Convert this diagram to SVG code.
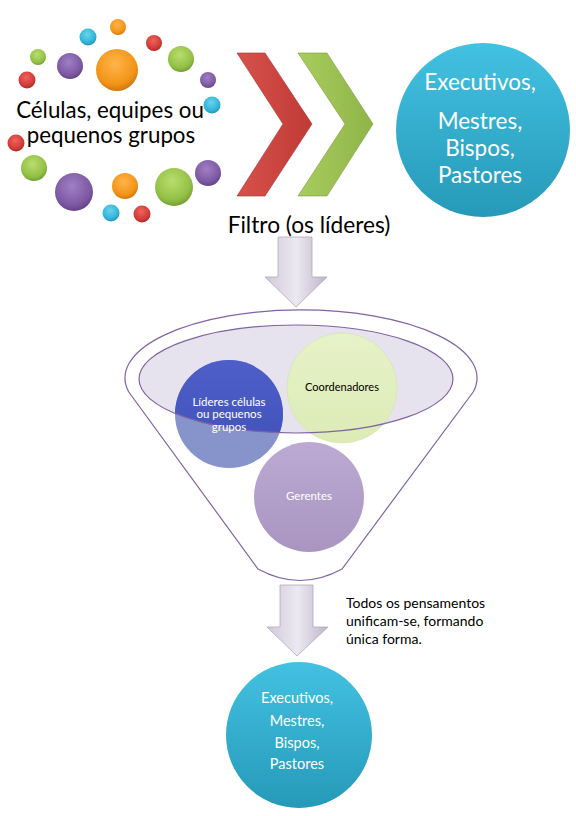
<svg xmlns="http://www.w3.org/2000/svg" width="576" height="816" viewBox="0 0 576 816">
<defs>
<radialGradient id="gO" cx="0.45" cy="0.35" r="0.7"><stop offset="0" stop-color="#ffb54a"/><stop offset="0.7" stop-color="#f29418"/><stop offset="1" stop-color="#c7700c"/></radialGradient>
<radialGradient id="gP" cx="0.45" cy="0.35" r="0.7"><stop offset="0" stop-color="#a07fc4"/><stop offset="0.7" stop-color="#7d58a3"/><stop offset="1" stop-color="#5c3d7e"/></radialGradient>
<radialGradient id="gG" cx="0.45" cy="0.35" r="0.7"><stop offset="0" stop-color="#b9de6e"/><stop offset="0.7" stop-color="#92c045"/><stop offset="1" stop-color="#6b952b"/></radialGradient>
<radialGradient id="gR" cx="0.45" cy="0.35" r="0.7"><stop offset="0" stop-color="#f0625c"/><stop offset="0.7" stop-color="#d03a35"/><stop offset="1" stop-color="#9c2420"/></radialGradient>
<radialGradient id="gC" cx="0.45" cy="0.35" r="0.7"><stop offset="0" stop-color="#6ad3ef"/><stop offset="0.7" stop-color="#2fb3d7"/><stop offset="1" stop-color="#1b86a6"/></radialGradient>
<linearGradient id="gTeal" x1="0" y1="0" x2="0" y2="1"><stop offset="0" stop-color="#43c1e2"/><stop offset="1" stop-color="#2699b8"/></linearGradient>
<linearGradient id="gRed" x1="0" y1="0" x2="1" y2="0"><stop offset="0" stop-color="#d8524c"/><stop offset="1" stop-color="#bf3a35"/></linearGradient>
<linearGradient id="gGrn" x1="0" y1="0" x2="1" y2="0"><stop offset="0" stop-color="#a9cc5e"/><stop offset="1" stop-color="#8fb447"/></linearGradient>
<linearGradient id="gArr" x1="0" y1="0" x2="1" y2="0"><stop offset="0" stop-color="#cfc8da"/><stop offset="0.5" stop-color="#ece9f1"/><stop offset="1" stop-color="#bdb5c9"/></linearGradient>
<linearGradient id="gBlue" x1="0" y1="0" x2="0" y2="1"><stop offset="0" stop-color="#4e5fc9"/><stop offset="1" stop-color="#3f4fb8"/></linearGradient>
<linearGradient id="gLG" x1="0" y1="0" x2="0" y2="1"><stop offset="0" stop-color="#e7f2c8"/><stop offset="1" stop-color="#dcebb6"/></linearGradient>
<linearGradient id="gLP" x1="0" y1="0" x2="0" y2="1"><stop offset="0" stop-color="#bcaad3"/><stop offset="1" stop-color="#a995c0"/></linearGradient>
<clipPath id="clipE"><ellipse cx="296" cy="379" rx="157" ry="54"/></clipPath>
</defs>
<style>
.t{font-family:Lato,"Liberation Sans",sans-serif}
.fl{fill:none;stroke:#8064a2;stroke-width:1.2}
.w{fill:#ffffff}
.k{fill:#000000}
.arr{fill:url(#gArr);stroke:#b0a8bd;stroke-width:0.8}
</style>
<rect width="576" height="816" fill="#ffffff"/>

<g id="bubbles">
<circle cx="118" cy="27" r="8" fill="url(#gO)"/>
<circle cx="88" cy="37" r="8.5" fill="url(#gC)"/>
<circle cx="154" cy="43" r="8" fill="url(#gR)"/>
<circle cx="38" cy="57" r="8" fill="url(#gG)"/>
<circle cx="70" cy="66" r="13" fill="url(#gP)"/>
<circle cx="117" cy="70" r="21" fill="url(#gO)"/>
<circle cx="181" cy="59" r="13" fill="url(#gG)"/>
<circle cx="27" cy="80" r="8.5" fill="url(#gR)"/>
<circle cx="208" cy="80" r="8" fill="url(#gP)"/>
<circle cx="212" cy="105" r="8.5" fill="url(#gC)"/>
<circle cx="16" cy="143" r="8.5" fill="url(#gR)"/>
<circle cx="34" cy="168" r="13" fill="url(#gG)"/>
<circle cx="208" cy="173" r="13" fill="url(#gP)"/>
<circle cx="74" cy="192" r="19" fill="url(#gP)"/>
<circle cx="125" cy="186" r="13" fill="url(#gO)"/>
<circle cx="174" cy="187" r="19" fill="url(#gG)"/>
<circle cx="111" cy="213" r="8.5" fill="url(#gC)"/>
<circle cx="142" cy="214" r="8.5" fill="url(#gR)"/>
<text class="t k" x="110" y="118" font-size="22.3" text-anchor="middle">Células, equipes ou</text>
<text class="t k" x="111" y="143" font-size="22.3" text-anchor="middle">pequenos grupos</text>
</g>

<g id="chevrons">
<polygon points="237,53 265,53 312,124 265,196 237,196 283,124" fill="url(#gRed)" stroke="#a8302b" stroke-width="0.6"/>
<polygon points="298,53 327,53 373,124 327,196 298,196 345,124" fill="url(#gGrn)" stroke="#7c9c3c" stroke-width="0.6"/>
<text class="t k" x="309" y="233" font-size="22.7" text-anchor="middle">Filtro (os líderes)</text>
</g>

<g id="top-circle">
<circle cx="483" cy="130" r="87" fill="url(#gTeal)"/>
<text class="t w" x="480" y="90" font-size="22.5" text-anchor="middle">Executivos,</text>
<text class="t w" x="480" y="129" font-size="22.5" text-anchor="middle">Mestres,</text>
<text class="t w" x="480" y="156" font-size="22.5" text-anchor="middle">Bispos,</text>
<text class="t w" x="480" y="183" font-size="22.5" text-anchor="middle">Pastores</text>
</g>

<g id="connectors">
<polygon class="arr" points="278,237 312,237 312,277 327,277 296,307 265,277 278,277"/>
<polygon class="arr" points="280,585 313,585 313,627 328,627 297,656 267,627 280,627"/>
</g>

<g id="funnel">
<path class="fl" d="M 128.8,392 A 176 68 0 1 1 473.2,392 L 342,569 Q 300,592 258,569 Z" style="fill:#ffffff"/>
<ellipse cx="296" cy="379" rx="157" ry="54" fill="#e6e2ee"/>
</g>

<g id="node-lideres">
<circle cx="229" cy="414" r="54" fill="#8794cb"/>
<circle cx="229" cy="414" r="54" fill="url(#gBlue)" clip-path="url(#clipE)"/>
</g>
<g id="node-coordenadores">
<circle cx="342" cy="388" r="55" fill="url(#gLG)" stroke="#d4e3aa" stroke-width="0.6"/>
</g>
<g id="node-gerentes">
<circle cx="309" cy="497" r="55" fill="url(#gLP)"/>
</g>
<ellipse cx="296" cy="379" rx="157" ry="54" class="fl"/>
<g id="labels">
<text class="t w" x="229" y="406" font-size="11.5" text-anchor="middle">Líderes células</text>
<text class="t w" x="229" y="418" font-size="11.5" text-anchor="middle">ou pequenos</text>
<text class="t w" x="229" y="431" font-size="11.5" text-anchor="middle">grupos</text>
<text class="t k" x="342" y="391" font-size="11" text-anchor="middle">Coordenadores</text>
<text class="t w" x="309" y="500" font-size="11.5" text-anchor="middle">Gerentes</text>
</g>

<g id="note">
<text class="t k" x="346" y="608" font-size="14">Todos os pensamentos</text>
<text class="t k" x="346" y="626" font-size="14">unificam-se, formando</text>
<text class="t k" x="346" y="644" font-size="14">única forma.</text>
</g>

<g id="bottom-circle">
<circle cx="299" cy="735" r="73" fill="url(#gTeal)"/>
<text class="t w" x="297" y="703" font-size="14.5" text-anchor="middle">Executivos,</text>
<text class="t w" x="297" y="726" font-size="14.5" text-anchor="middle">Mestres,</text>
<text class="t w" x="297" y="748" font-size="14.5" text-anchor="middle">Bispos,</text>
<text class="t w" x="297" y="769" font-size="14.5" text-anchor="middle">Pastores</text>
</g>
</svg>
